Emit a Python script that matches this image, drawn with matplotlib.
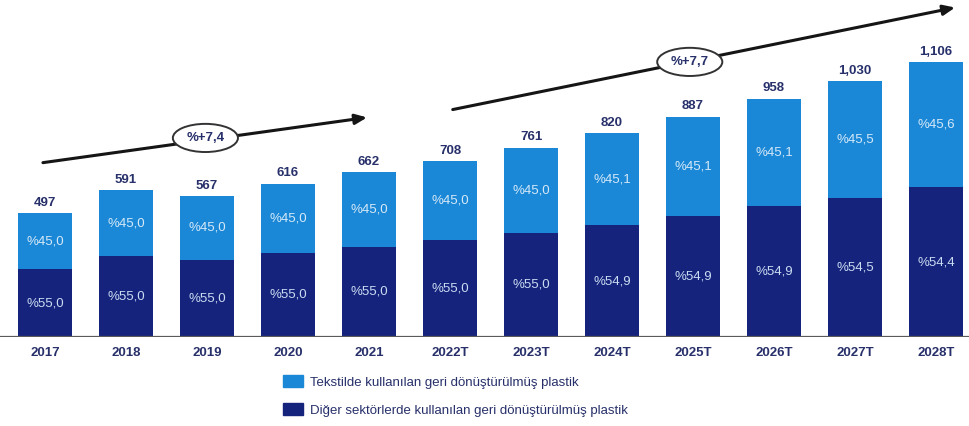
import matplotlib
matplotlib.use("Agg")
import matplotlib.pyplot as plt
from matplotlib.patches import Patch

# Recycled plastic use in Türkiye (thousand tonnes), actuals and forecasts (T)
years = ["2017", "2018", "2019", "2020", "2021", "2022T",
         "2023T", "2024T", "2025T", "2026T", "2027T", "2028T"]
totals = [497, 591, 567, 616, 662, 708, 761, 820, 887, 958, 1030, 1106]
textile_share = [45.0, 45.0, 45.0, 45.0, 45.0, 45.0, 45.0, 45.1, 45.1, 45.1, 45.5, 45.6]
other_share = [55.0, 55.0, 55.0, 55.0, 55.0, 55.0, 55.0, 54.9, 54.9, 54.9, 54.5, 54.4]
cagr_labels = ["%+7,4", "%+7,7"]
legend_labels = ["Tekstilde kullanılan geri dönüştürülmüş plastik",
                 "Diğer sektörlerde kullanılan geri dönüştürülmüş plastik"]

LIGHT = "#1a88d6"
DARK = "#16237c"
TEXT = "#27306a"

plt.rcParams["font.family"] = ["Liberation Sans", "DejaVu Sans"]

fig = plt.figure(figsize=(9.7, 4.26), dpi=100)
ax = fig.add_axes([0.0, 89 / 426, 1.0, 333 / 426])

x = list(range(len(years)))
other_vals = [t * s / 100 for t, s in zip(totals, other_share)]
textile_vals = [t - o for t, o in zip(totals, other_vals)]

ax.bar(x, other_vals, width=0.67, color=DARK, zorder=2)
ax.bar(x, textile_vals, width=0.67, bottom=other_vals, color=LIGHT, zorder=2)

fmt = lambda v: f"%{v:.1f}".replace(".", ",")
for i in x:
    ax.text(i, other_vals[i] / 2, fmt(other_share[i]), ha="center", va="center",
            color="#c9dcf2", fontsize=9.5, zorder=3)
    ax.text(i, other_vals[i] + textile_vals[i] / 2, fmt(textile_share[i]),
            ha="center", va="center", color="#d6e8f8", fontsize=9.5, zorder=3)
    ax.text(i, totals[i] + 18, f"{totals[i]:,}", ha="center", va="bottom",
            color=TEXT, fontsize=9.5, fontweight="bold", zorder=3)

# Growth arrows with CAGR ovals
arrows = [((-0.06, 700), (4.01, 885)), ((5.0, 913), (11.27, 1328))]
for start, end in arrows:
    ax.annotate("", xy=end, xytext=start, annotation_clip=False,
                arrowprops=dict(arrowstyle="-|>,head_length=0.7,head_width=0.3",
                                color="#151515", lw=2.2), zorder=4)
for lab, pos in zip(cagr_labels, [(1.98, 801), (7.96, 1107)]):
    ax.text(pos[0], pos[1], lab, ha="center", va="center", color=TEXT,
            fontsize=9.5, fontweight="bold", zorder=5,
            bbox=dict(boxstyle="ellipse,pad=0.3", fc="white", ec="#333333", lw=1.4))

ax.set_xlim(-0.556, 11.42)
ax.set_ylim(0, 1340)
ax.axhline(0, color="#5a5a5a", lw=1.6, zorder=3)
for s in ax.spines.values():
    s.set_visible(False)
ax.set_yticks([])
ax.set_xticks(x)
ax.set_xticklabels(years, fontsize=9.5, fontweight="bold", color=TEXT)
ax.tick_params(axis="x", length=0, pad=7)

handles = [Patch(color=LIGHT), Patch(color=DARK)]
fig.legend(handles, legend_labels, loc="upper left", bbox_to_anchor=(274 / 970, 1 - 366 / 426),
           frameon=False, fontsize=9.5, labelcolor=TEXT, handlelength=1.5,
           handleheight=1.0, labelspacing=1.1, handletextpad=0.5, borderpad=0.2)

fig.savefig("out.png", dpi=100, facecolor="white")
